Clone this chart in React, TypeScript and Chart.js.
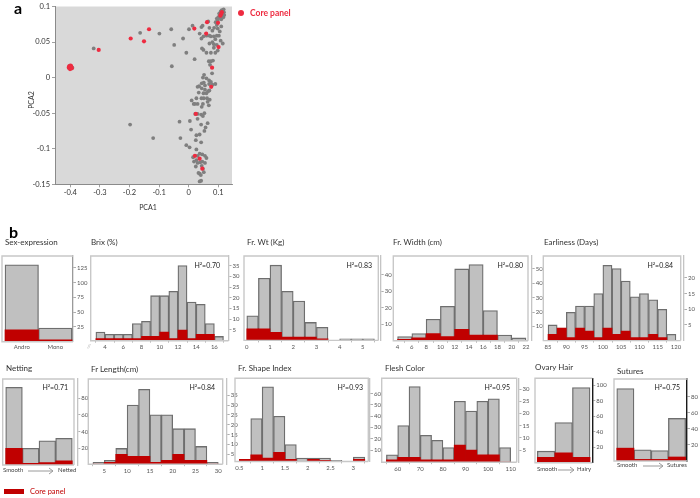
import React, { useEffect, useRef } from "react";
import { Chart, registerables } from "chart.js";
Chart.register(...registerables);

const FONT = "Lato, 'Open Sans', 'DejaVu Sans', sans-serif";
const RED = "#c00000";
const GRAYFILL = "#c0c0c0";
const BAR_EDGE = "#6e6e6e";

// ---------------- Panel a data (PCA) ----------------
const pcaGray: [number, number][] = [
  [-0.405, 0.014], [-0.398, 0.013], [-0.393, 0.014], [-0.402, 0.017],
  [-0.321, 0.041], [-0.164, 0.063], [-0.099, 0.062], [-0.059, 0.068], [-0.049, 0.046], [-0.019, 0.055], [-0.008, 0.035], [-0.057, 0.016], [-0.198, -0.066], [-0.12, -0.085],
  [0.001, 0.068], [0.013, 0.073], [0.037, 0.062], [0.043, 0.071], [0.047, 0.073], [0.066, 0.079], [0.07, 0.07], [0.08, 0.066], [0.086, 0.07], [0.091, 0.078], [0.095, 0.074], [0.098, 0.069], [0.105, 0.065], [0.11, 0.072],
  [0.095, 0.083], [0.098, 0.08], [0.1, 0.085], [0.103, 0.09], [0.105, 0.088], [0.107, 0.084], [0.108, 0.093], [0.11, 0.091], [0.11, 0.082], [0.112, 0.095], [0.113, 0.087], [0.114, 0.09], [0.115, 0.094], [0.116, 0.089], [0.117, 0.085], [0.118, 0.096], [0.119, 0.092], [0.12, 0.088],
  [0.043, 0.055], [0.05, 0.058], [0.06, 0.059], [0.07, 0.059], [0.075, 0.058], [0.085, 0.058], [0.095, 0.059], [0.102, 0.059], [0.108, 0.052], [0.09, 0.054], [0.08, 0.05], [0.07, 0.048], [0.085, 0.047], [0.095, 0.046], [0.115, 0.048], [0.045, 0.041], [0.05, 0.039], [0.06, 0.035], [0.075, 0.035], [0.09, 0.035], [0.098, 0.038], [0.085, 0.042],
  [0.02, 0.026], [0.068, 0.023], [0.075, 0.023], [0.082, 0.024], [0.072, 0.018], [0.079, 0.006], [0.052, 0.004], [0.048, 0.0], [0.06, -0.001], [0.069, -0.004], [0.051, -0.007], [0.044, -0.008], [0.055, -0.011], [0.069, -0.009], [0.075, -0.006], [0.035, -0.012], [0.03, -0.013], [0.044, -0.015], [0.055, -0.017], [0.066, -0.019], [0.08, -0.01], [0.09, -0.009], [0.034, -0.021], [0.05, -0.022], [0.06, -0.022], [0.07, -0.018],
  [0.01, -0.032], [0.026, -0.029], [0.043, -0.029], [0.051, -0.029], [0.062, -0.029], [0.071, -0.031], [0.048, -0.037], [0.03, -0.037], [0.021, -0.037], [0.017, -0.037], [0.044, -0.041], [0.064, -0.034], [0.068, -0.039],
  [0.03, -0.051], [0.042, -0.052], [0.053, -0.05], [0.022, -0.051], [0.004, -0.061], [0.03, -0.058], [0.048, -0.054], [0.064, -0.064], [0.057, -0.07], [0.042, -0.066], [-0.031, -0.062],
  [0.008, -0.073], [0.026, -0.081], [0.037, -0.08], [0.053, -0.075], [0.024, -0.088], [0.042, -0.091], [-0.028, -0.085],
  [-0.008, -0.095], [0.003, -0.098], [0.026, -0.101], [0.037, -0.107], [0.046, -0.108], [0.055, -0.11], [0.06, -0.113], [0.015, -0.112], [0.026, -0.116], [0.03, -0.12], [0.039, -0.119], [0.044, -0.124], [0.048, -0.128], [0.033, -0.134], [0.037, -0.135], [0.051, -0.133], [0.037, -0.146], [0.042, -0.145], [0.041, -0.137], [0.024, -0.125], [0.018, -0.118], [0.046, -0.118], [0.03, -0.11], [0.055, -0.12],
];
const pcaCore: [number, number][] = [
  [-0.404, 0.016], [-0.4, 0.014], [-0.397, 0.016], [-0.401, 0.012], [-0.395, 0.013], [-0.405, 0.014], [-0.399, 0.017],
  [-0.304, 0.039], [-0.196, 0.055], [-0.151, 0.051], [-0.134, 0.068], [0.019, 0.069], [0.062, 0.078], [0.059, 0.062], [0.099, 0.077], [0.101, 0.043], [0.107, 0.087], [0.112, 0.092], [0.109, 0.089], [0.079, 0.014], [0.076, -0.013], [0.024, -0.051], [0.021, -0.11], [0.037, -0.114], [0.046, -0.128],
];
const pcaXTicks = [-0.4, -0.3, -0.2, -0.1, 0, 0.1];
const pcaXLabels = ["-0.4", "-0.3", "-0.2", "-0.1", "0", "0.1"];
const pcaYTicks = [-0.15, -0.1, -0.05, 0, 0.05, 0.1];
const pcaYLabels = ["-0.15", "-0.1", "-0.05", "0", "0.05", "0.1"];

// ---------------- Panel b data (histograms) ----------------
const sexCats = ["Andro", "Mono"];
const sexCenters = [0.5, 1.5];
const sexAll = [130, 23];
const sexCore = [20, 3];
const sexYTicks = [25, 50, 75, 100, 125];

const brixCenters = [3.5, 4.5, 5.5, 6.5, 7.5, 8.5, 9.5, 10.5, 11.5, 12.5, 13.5, 14.5, 15.5, 16.5];
const brixAll = [4, 3, 3, 3, 8, 9, 21, 21, 23, 35, 18, 17, 8, 2];
const brixCore = [1, 1, 1, 1, 1, 2, 2, 4, 1, 5, 1, 3, 3, 0];
const brixXTicks = [4, 6, 8, 10, 12, 14, 16];
const brixYTicks = [5, 10, 15, 20, 25, 30, 35];

const wtCenters = [0.25, 0.75, 1.25, 1.75, 2.25, 2.75, 3.25, 3.75, 4.25, 4.75, 5.25];
const wtAll = [15, 38, 46, 30, 24, 11, 8, 0, 1, 1, 1];
const wtCore = [7, 7, 5, 2, 2, 2, 1, 0, 0, 0, 0];
const wtXTicks = [0, 1, 2, 3, 4, 5];
const wtYTicks = [10, 20, 30, 40];

const widthCenters = [5, 7, 9, 11, 13, 15, 17, 19, 21];
const widthAll = [3, 5, 15, 24, 50, 53, 21, 4, 2];
const widthCore = [1, 2, 5, 3, 8, 4, 4, 0, 0];
const widthXTicks = [4, 6, 8, 10, 12, 14, 16, 18, 20, 22];
const widthYTicks = [10, 20, 30, 40, 50];

const earlyCenters = [86.25, 88.75, 91.25, 93.75, 96.25, 98.75, 101.25, 103.75, 106.25, 108.75, 111.25, 113.75, 116.25, 118.75];
const earlyAll = [5, 4, 9, 11, 11, 15, 24, 23, 19, 14, 15, 13, 10, 2];
const earlyCore = [2, 4, 1, 4, 3, 1, 4, 2, 3, 1, 1, 2, 1, 0];
const earlyXTicks = [85, 90, 95, 100, 105, 110, 115, 120];
const earlyYTicks = [5, 10, 15, 20];

const netCenters = [0.5, 1.5, 2.5, 3.5];
const netAll = [93, 20, 29, 32];
const netCore = [20, 2, 3, 5];
const netYTicks = [20, 40, 60, 80];

const lenCenters = [3.75, 6.25, 8.75, 11.25, 13.75, 16.25, 18.75, 21.25, 23.75, 26.25, 28.75];
const lenAll = [1, 2, 8, 30, 38, 25, 25, 18, 18, 9, 1];
const lenCore = [0, 1, 5, 4, 4, 1, 2, 5, 2, 2, 0];
const lenXTicks = [5, 10, 15, 20, 25, 30];
const lenYTicks = [5, 10, 15, 20, 25, 30, 35];

const shapeCenters = [0.625, 0.875, 1.125, 1.375, 1.625, 1.875, 2.125, 2.375, 2.625, 2.875, 3.125];
const shapeAll = [2, 38, 66, 40, 15, 3, 3, 3, 1, 0, 4];
const shapeCore = [2, 6, 3, 8, 2, 0, 2, 1, 0, 0, 2];
const shapeXTicks = [0.5, 1, 1.5, 2, 2.5, 3];
const shapeYTicks = [10, 20, 30, 40, 50, 60];

const fleshCenters = [57.5, 62.5, 67.5, 72.5, 77.5, 82.5, 87.5, 92.5, 97.5, 102.5, 107.5];
const fleshAll = [3, 15, 31, 11, 9, 6, 25, 21, 25, 26, 6];
const fleshCore = [1, 2, 2, 1, 1, 1, 7, 5, 3, 3, 0];
const fleshXTicks = [60, 70, 80, 90, 100, 110];
const fleshYTicks = [5, 10, 15, 20, 25, 30];

const ovaryCenters = [0.5, 1.5, 2.5];
const ovaryAll = [15, 52, 97];
const ovaryCore = [7, 13, 7];
const ovaryYTicks = [20, 40, 60, 80, 100];

const sutCenters = [0.5, 1.5, 2.5, 3.5];
const sutAll = [90, 14, 13, 53];
const sutCore = [16, 2, 2, 5];
const sutYTicks = [20, 40, 60, 80];

// ---------------- layout ----------------
type Box = { l: number; t: number; r: number; axis: number; b: number };
type Panel = {
  key: string;
  box: Box;
  xMin: number;
  xMax: number;
  xTicks: number[];
  xLabels?: string[];
  yMax: number;
  yTicks: number[];
  centers: number[];
  all: number[];
  core: number[];
  axisColor: string;
  axisWidth: number;
  drawRight: boolean;
};

const LIGHT = "#c4c4c4";
const DARK = "#1a1a1a";

const panels: Panel[] = [
  { key: "sex", box: { l: 2, t: 256, r: 73, axis: 73, b: 341.7 }, xMin: -0.09, xMax: 2.03, xTicks: sexCenters, xLabels: sexCats, yMax: 145, yTicks: sexYTicks, centers: sexCenters, all: sexAll, core: sexCore, axisColor: "#9a9a9a", axisWidth: 1.3, drawRight: false },
  { key: "brix", box: { l: 90.7, t: 256, r: 228.5, axis: 228.5, b: 340.7 }, xMin: 2.43, xMax: 17.55, xTicks: brixXTicks, yMax: 39.5, yTicks: brixYTicks, centers: brixCenters, all: brixAll, core: brixCore, axisColor: LIGHT, axisWidth: 1.3, drawRight: false },
  { key: "wt", box: { l: 244, t: 256, r: 378.3, axis: 380.7, b: 340.4 }, xMin: -0.12, xMax: 5.77, xTicks: wtXTicks, yMax: 51.6, yTicks: wtYTicks, centers: wtCenters, all: wtAll, core: wtCore, axisColor: LIGHT, axisWidth: 1.3, drawRight: true },
  { key: "width", box: { l: 393.3, t: 256, r: 528, axis: 531.7, b: 340.8 }, xMin: 3.4, xMax: 22.8, xTicks: widthXTicks, yMax: 59, yTicks: widthYTicks, centers: widthCenters, all: widthAll, core: widthCore, axisColor: LIGHT, axisWidth: 1.3, drawRight: true },
  { key: "early", box: { l: 543.3, t: 256, r: 680.7, axis: 684, b: 340.6 }, xMin: 83.7, xMax: 122.2, xTicks: earlyXTicks, yMax: 27, yTicks: earlyYTicks, centers: earlyCenters, all: earlyAll, core: earlyCore, axisColor: LIGHT, axisWidth: 1.3, drawRight: true },
  { key: "net", box: { l: 2.7, t: 379, r: 74, axis: 77.3, b: 465 }, xMin: -0.18, xMax: 4.3, xTicks: [], yMax: 103, yTicks: netYTicks, centers: netCenters, all: netAll, core: netCore, axisColor: LIGHT, axisWidth: 1.3, drawRight: true },
  { key: "len", box: { l: 88.3, t: 379, r: 222.7, axis: 226.7, b: 464.2 }, xMin: 1.48, xMax: 31.85, xTicks: lenXTicks, yMax: 43.2, yTicks: lenYTicks, centers: lenCenters, all: lenAll, core: lenCore, axisColor: LIGHT, axisWidth: 1.3, drawRight: true },
  { key: "shape", box: { l: 235, t: 378.3, r: 368.3, axis: 370, b: 461.5 }, xMin: 0.405, xMax: 3.365, xTicks: shapeXTicks, yMax: 73.5, yTicks: shapeYTicks, centers: shapeCenters, all: shapeAll, core: shapeCore, axisColor: LIGHT, axisWidth: 1.3, drawRight: true },
  { key: "flesh", box: { l: 381.7, t: 378.3, r: 516.7, axis: 518.5, b: 462.2 }, xMin: 52.92, xMax: 113.45, xTicks: fleshXTicks, yMax: 34.4, yTicks: fleshYTicks, centers: fleshCenters, all: fleshAll, core: fleshCore, axisColor: LIGHT, axisWidth: 1.3, drawRight: true },
  { key: "ovary", box: { l: 535, t: 378.3, r: 592.3, axis: 592.3, b: 462.8 }, xMin: -0.13, xMax: 3.13, xTicks: [], yMax: 109, yTicks: ovaryYTicks, centers: ovaryCenters, all: ovaryAll, core: ovaryCore, axisColor: DARK, axisWidth: 1.4, drawRight: false },
  { key: "sut", box: { l: 614, t: 379, r: 687, axis: 687, b: 461 }, xMin: -0.16, xMax: 4.08, xTicks: [], yMax: 102, yTicks: sutYTicks, centers: sutCenters, all: sutAll, core: sutCore, axisColor: DARK, axisWidth: 1.4, drawRight: false },
];

const framePlugin = {
  id: "frame",
  beforeDraw(chart: any, _a: any, opts: any) {
    if (!opts || !opts.fill) return;
    const { ctx, chartArea: a } = chart;
    ctx.save();
    ctx.fillStyle = opts.fill;
    ctx.fillRect(a.left, a.top, a.right - a.left, a.bottom - a.top);
    ctx.restore();
  },
  afterDatasetsDraw(chart: any, _a: any, opts: any) {
    if (!opts || !opts.stroke) return;
    const { ctx, chartArea: a } = chart;
    const right = a.right - (opts.gap || 0);
    ctx.save();
    ctx.strokeStyle = opts.stroke;
    ctx.lineWidth = opts.width || 1.5;
    ctx.beginPath();
    ctx.moveTo(right, a.bottom);
    ctx.lineTo(a.left, a.bottom);
    ctx.lineTo(a.left, a.top);
    ctx.lineTo(right, a.top);
    if (opts.drawRight) ctx.lineTo(right, a.bottom);
    ctx.stroke();
    ctx.restore();
  },
};

function HistChart({ p }: { p: Panel }) {
  const ref = useRef<HTMLCanvasElement>(null);
  const cx = Math.floor(p.box.l) - 6;
  const cy = Math.floor(p.box.t) - 6;
  const cr = Math.ceil(p.box.axis) + 22;
  const cb = Math.ceil(p.box.b) + 14;
  const cw = cr - cx;
  const ch = cb - cy;
  useEffect(() => {
    const yW = cr - p.box.axis;
    const xH = cb - p.box.b;
    const isCat = !!p.xLabels;
    const chart = new Chart(ref.current as HTMLCanvasElement, {
      type: "bar",
      data: {
        datasets: [
          {
            data: p.centers.map((c, i) => ({ x: c, y: p.core[i] })),
            backgroundColor: RED,
            borderWidth: 0,
            order: 0,
            grouped: false,
            barPercentage: 1,
            categoryPercentage: 1,
          } as any,
          {
            data: p.centers.map((c, i) => ({ x: c, y: p.all[i] })),
            backgroundColor: GRAYFILL,
            borderColor: BAR_EDGE,
            borderWidth: 1.3,
            borderSkipped: "bottom",
            order: 1,
            grouped: false,
            barPercentage: 1,
            categoryPercentage: 1,
          } as any,
        ],
      },
      options: {
        responsive: false,
        animation: false,
        devicePixelRatio: 1,
        layout: { padding: { left: p.box.l - cx, top: p.box.t - cy, right: 0, bottom: 0 } },
        plugins: {
          legend: { display: false },
          tooltip: { enabled: false },
          frame: { stroke: "#c8c8c8", width: 1.4, gap: p.box.axis - p.box.r, drawRight: p.drawRight },
        } as any,
        scales: {
          x: {
            type: "linear",
            min: p.xMin,
            max: p.xMax,
            offset: false,
            afterBuildTicks: (s: any) => {
              s.ticks = p.xTicks.map((v) => ({ value: v }));
            },
            afterFit: (s: any) => {
              s.height = xH;
            },
            ticks: {
              autoSkip: false,
              maxRotation: 0,
              padding: isCat ? 2 : 1,
              color: "#555",
              font: { family: FONT, size: 6 },
              callback: (v: any, i: number) => (p.xLabels ? p.xLabels[i] : String(v)),
            },
            grid: { display: true, drawOnChartArea: false, drawTicks: !isCat, tickLength: 2, color: "#aaa", lineWidth: 0.8 },
            border: { display: false },
          },
          y: {
            type: "linear",
            position: "right",
            min: 0,
            max: p.yMax,
            afterBuildTicks: (s: any) => {
              s.ticks = p.yTicks.map((v) => ({ value: v }));
            },
            afterFit: (s: any) => {
              s.width = yW;
            },
            ticks: { padding: 1, color: "#555", font: { family: FONT, size: 6 }, callback: (v: any) => String(v) },
            grid: { display: true, drawOnChartArea: false, drawTicks: true, tickLength: 3, color: "#999", lineWidth: 0.8 },
            border: { display: true, color: p.axisColor, width: p.axisWidth },
          },
        },
      } as any,
      plugins: [framePlugin],
    });
    return () => chart.destroy();
  }, []);
  return (
    <canvas
      ref={ref}
      width={cw}
      height={ch}
      style={{ position: "absolute", left: cx, top: cy, width: cw, height: ch }}
    />
  );
}

function PcaChart() {
  const ref = useRef<HTMLCanvasElement>(null);
  const cx = 15, cy = 0, cw = 230, ch = 200;
  const plotL = 55, plotT = 4.7, plotR = 232, plotB = 184.3;
  useEffect(() => {
    const chart = new Chart(ref.current as HTMLCanvasElement, {
      type: "scatter",
      data: {
        datasets: [
          {
            data: pcaCore.map(([x, y]) => ({ x, y })),
            backgroundColor: "#ee2b40",
            pointRadius: 2.1,
            pointBorderWidth: 0,
            order: 0,
          },
          {
            data: pcaGray.map(([x, y]) => ({ x, y })),
            backgroundColor: "#7f7f7f",
            pointRadius: 1.9,
            pointBorderWidth: 0,
            order: 1,
          },
        ],
      },
      options: {
        responsive: false,
        animation: false,
        devicePixelRatio: 1,
        layout: { padding: { left: 0, top: plotT - cy, right: cx + cw - plotR, bottom: 0 } },
        plugins: {
          legend: { display: false },
          tooltip: { enabled: false },
          frame: { fill: "#d9d9d9" },
        } as any,
        scales: {
          x: {
            type: "linear",
            min: -0.4517,
            max: 0.1463,
            afterBuildTicks: (s: any) => {
              s.ticks = pcaXTicks.map((v) => ({ value: v }));
            },
            afterFit: (s: any) => {
              s.height = cy + ch - plotB;
            },
            ticks: { autoSkip: false, maxRotation: 0, padding: 1, color: "#333", font: { family: FONT, size: 7.5 }, callback: (_v: any, i: number) => pcaXLabels[i] },
            grid: { display: true, drawOnChartArea: false, drawTicks: true, tickLength: 3, color: "#888", lineWidth: 0.8 },
            border: { display: true, color: "#8a8a8a", width: 1 },
          },
          y: {
            type: "linear",
            min: -0.15,
            max: 0.1,
            afterBuildTicks: (s: any) => {
              s.ticks = pcaYTicks.map((v) => ({ value: v }));
            },
            afterFit: (s: any) => {
              s.width = plotL - cx;
            },
            ticks: { padding: 2, color: "#333", font: { family: FONT, size: 7.5 }, callback: (_v: any, i: number) => pcaYLabels[i] },
            grid: { display: true, drawOnChartArea: false, drawTicks: true, tickLength: 3, color: "#888", lineWidth: 0.8 },
            border: { display: true, color: "#8a8a8a", width: 1 },
          },
        },
      } as any,
      plugins: [framePlugin],
    });
    return () => chart.destroy();
  }, []);
  return (
    <canvas ref={ref} width={cw} height={ch} style={{ position: "absolute", left: cx, top: cy, width: cw, height: ch }} />
  );
}

type TxtProps = { x: number; y: number; text: string; size: number; color?: string; bold?: boolean; align?: "left" | "right" | "center"; rotate?: boolean };
function Txt({ x, y, text, size, color = "#333", bold = false, align = "left", rotate = false }: TxtProps) {
  const tx = align === "left" ? "0" : align === "right" ? "-100%" : "-50%";
  return (
    <div
      style={{
        position: "absolute",
        left: x,
        top: y,
        transform: `translate(${tx}, -50%)${rotate ? " rotate(-90deg)" : ""}`,
        fontFamily: FONT,
        fontSize: size,
        fontWeight: bold ? 700 : 400,
        color,
        lineHeight: 1,
        whiteSpace: "nowrap",
      }}
    >
      {text}
    </div>
  );
}

function Arrow({ x1, x2, y }: { x1: number; x2: number; y: number }) {
  return (
    <svg style={{ position: "absolute", left: 0, top: 0 }} width={700} height={498}>
      <line x1={x1} y1={y} x2={x2} y2={y} stroke="#9a9a9a" strokeWidth={1} />
      <polyline points={`${x2 - 4},${y - 3} ${x2},${y} ${x2 - 4},${y + 3}`} fill="none" stroke="#9a9a9a" strokeWidth={1} />
    </svg>
  );
}

const titles: [number, number, string][] = [
  [5, 242, "Sex-expression"],
  [91, 242, "Brix (%)"],
  [247, 242, "Fr. Wt (Kg)"],
  [393, 242, "Fr. Width (cm)"],
  [544, 242, "Earliness (Days)"],
  [6, 368, "Netting"],
  [91, 369, "Fr Length(cm)"],
  [238, 368, "Fr. Shape Index"],
  [385, 368, "Flesh Color"],
  [535, 367, "Ovary Hair"],
  [617, 371, "Sutures"],
];

const herit: [number, number, string][] = [
  [220, 265, "H²=0.70"],
  [372, 265, "H²=0.83"],
  [523, 265, "H²=0.80"],
  [673, 265, "H²=0.84"],
  [68, 387, "H²=0.71"],
  [215, 387, "H²=0.84"],
  [363, 387, "H²=0.93"],
  [510, 387, "H²=0.95"],
  [680, 387, "H²=0.75"],
];

export default function App() {
  return (
    <div style={{ position: "absolute", left: 0, top: 0, width: 700, height: 498, background: "#fff", overflow: "hidden" }}>
      <PcaChart />
      {panels.map((p) => (
        <HistChart key={p.key} p={p} />
      ))}
      <Txt x={14} y={8} text="a" size={16} bold color="#000" />
      <Txt x={9} y={232} text="b" size={16} bold color="#000" />
      <div style={{ position: "absolute", left: 238.3, top: 10.3, width: 5.4, height: 5.4, borderRadius: 3, background: "#ee2b40" }} />
      <Txt x={250} y={13} text="Core panel" size={8.5} bold color="#ee2b40" />
      <Txt x={148} y={207} text="PCA1" size={7} color="#333" align="center" />
      <Txt x={31} y={100} text="PCA2" size={7} color="#333" align="center" rotate />
      {titles.map(([x, y, t]) => (
        <Txt key={t} x={x} y={y} text={t} size={8} color="#333" />
      ))}
      {herit.map(([x, y, t], i) => (
        <Txt key={i} x={x} y={y} text={t} size={7} color="#222" align="right" />
      ))}
      <Txt x={87} y={346} text="//" size={6} color="#bbb" />
      <Txt x={3} y={470} text="Smooth" size={6} color="#444" />
      <Arrow x1={28} x2={53} y={471} />
      <Txt x={58} y={470} text="Netted" size={6} color="#444" />
      <Txt x={537} y={469} text="Smooth" size={6} color="#444" />
      <Arrow x1={558} x2={574} y={470} />
      <Txt x={577} y={469} text="Hairy" size={6} color="#444" />
      <Txt x={617} y={465} text="Smooth" size={6} color="#444" />
      <Arrow x1={643} x2={663} y={466} />
      <Txt x={667} y={465} text="Sutures" size={6} color="#444" />
      <div style={{ position: "absolute", left: 4, top: 489, width: 20, height: 4.5, background: RED }} />
      <Txt x={30} y={491.5} text="Core panel" size={7.5} color={RED} />
    </div>
  );
}
